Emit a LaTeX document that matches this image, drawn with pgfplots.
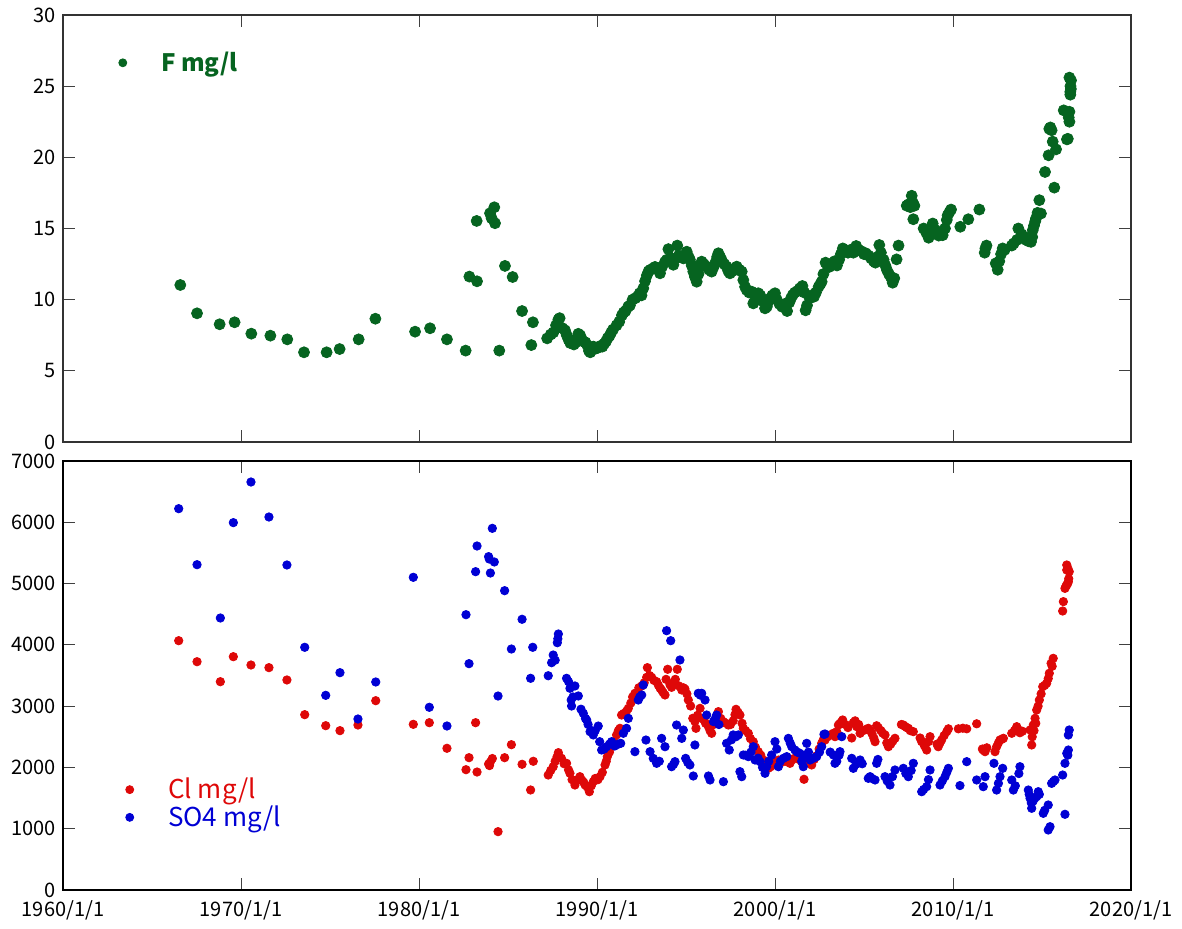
\documentclass[border=0pt]{standalone}
\usepackage{pgfplots}
\usepackage{pgfplotstable}
\usepackage{fontspec}
\pgfplotsset{compat=1.18}
\setmainfont{Noto Sans CJK JP}

\definecolor{fgreen}{RGB}{6,100,32}
\definecolor{clred}{RGB}{222,8,8}
\definecolor{soblue}{RGB}{0,0,212}

% Fluoride, mg/l (decimal year, value)
\pgfplotstableread{
year val
1966.59 11.03
1967.53 9.04
1968.80 8.27
1969.64 8.41
1970.58 7.61
1971.65 7.47
1972.60 7.21
1973.54 6.30
1974.81 6.30
1975.54 6.53
1976.61 7.21
1977.55 8.66
1979.78 7.75
1980.62 7.99
1981.57 7.21
1982.62 6.42
1982.83 11.62
1983.24 15.53
1983.26 11.29
1983.99 16.07
1984.08 15.72
1984.23 16.49
1984.27 15.37
1984.51 6.42
1984.83 12.37
1985.26 11.59
1985.79 9.20
1986.31 6.81
1986.40 8.41
1987.20 7.28
1987.40 7.55
1987.55 7.70
1987.70 8.20
1987.83 8.60
1987.90 8.70
1988.05 8.00
1988.20 7.85
1988.30 7.50
1988.40 7.20
1988.50 6.95
1988.60 7.10
1988.70 6.85
1988.80 7.00
1988.95 7.60
1989.05 7.50
1989.15 7.20
1989.25 7.05
1989.35 7.00
1989.45 6.80
1989.55 6.40
1989.62 6.30
1989.70 6.60
1989.80 6.70
1989.90 6.55
1990.00 6.60
1990.10 6.65
1990.20 6.75
1990.30 6.70
1990.40 6.90
1990.50 7.05
1990.60 7.30
1990.70 7.45
1990.80 7.70
1990.90 7.90
1991.10 8.20
1991.25 8.45
1991.40 8.90
1991.50 9.10
1991.60 9.20
1991.75 9.50
1991.85 9.60
1992.00 10.00
1992.15 10.10
1992.30 10.25
1992.40 10.45
1992.50 10.30
1992.60 10.80
1992.70 11.30
1992.80 11.70
1992.90 12.00
1993.00 12.10
1993.15 12.20
1993.26 12.30
1993.40 12.20
1993.54 11.85
1993.65 12.30
1993.82 12.65
1993.92 12.80
1994.01 13.55
1994.15 12.90
1994.29 12.45
1994.40 12.90
1994.51 13.80
1994.60 13.10
1994.72 13.00
1994.85 12.90
1995.04 13.37
1995.15 13.00
1995.22 12.80
1995.32 12.40
1995.41 11.97
1995.50 11.60
1995.60 11.26
1995.70 11.80
1995.80 12.30
1995.88 12.67
1996.00 12.50
1996.16 12.32
1996.30 12.10
1996.44 11.97
1996.55 12.30
1996.65 12.60
1996.75 13.00
1996.82 13.26
1996.92 13.00
1997.00 12.79
1997.15 12.50
1997.28 12.32
1997.38 12.00
1997.47 11.85
1997.60 12.00
1997.75 12.20
1997.85 12.32
1998.00 12.10
1998.13 11.97
1998.22 11.38
1998.32 10.90
1998.41 10.68
1998.55 10.50
1998.69 10.56
1998.78 9.74
1998.90 10.20
1999.06 10.45
1999.17 10.30
1999.30 9.90
1999.44 9.39
1999.54 9.50
1999.62 9.86
1999.75 10.10
1999.85 10.30
2000.00 10.45
2000.10 10.00
2000.25 9.70
2000.40 9.50
2000.55 9.70
2000.68 9.20
2000.80 9.80
2000.90 10.10
2001.00 10.33
2001.12 10.50
2001.25 10.60
2001.40 10.80
2001.54 10.96
2001.65 10.50
2001.72 9.25
2001.80 9.60
2001.95 10.10
2002.05 10.30
2002.19 10.21
2002.30 10.50
2002.45 10.90
2002.55 11.10
2002.62 11.26
2002.72 11.80
2002.84 12.60
2002.95 12.40
2003.05 12.30
2003.20 12.50
2003.35 12.70
2003.48 12.40
2003.60 12.80
2003.70 13.20
2003.81 13.60
2003.95 13.40
2004.10 13.30
2004.25 13.50
2004.40 13.30
2004.56 13.77
2004.70 13.50
2004.85 13.40
2005.00 13.20
2005.10 13.26
2005.25 13.10
2005.40 12.90
2005.55 12.70
2005.64 12.60
2005.75 13.00
2005.86 13.84
2005.95 13.30
2006.10 12.80
2006.20 12.40
2006.29 12.08
2006.40 11.80
2006.50 11.60
2006.61 11.19
2006.70 11.50
2006.83 12.83
2006.94 13.80
2007.40 16.60
2007.50 16.70
2007.60 16.50
2007.68 17.30
2007.75 16.80
2007.83 16.60
2007.77 15.65
2008.35 15.00
2008.50 14.70
2008.63 14.35
2008.75 14.60
2008.86 15.35
2009.00 14.90
2009.20 14.50
2009.42 14.53
2009.55 15.00
2009.65 15.60
2009.70 15.93
2009.80 16.15
2009.89 16.33
2010.41 15.12
2010.86 15.65
2011.48 16.33
2011.78 13.30
2011.82 13.60
2011.88 13.80
2012.40 12.55
2012.51 12.10
2012.60 12.70
2012.70 13.20
2012.79 13.60
2012.90 13.50
2013.30 13.80
2013.41 13.95
2013.60 14.20
2013.67 15.00
2013.85 14.60
2014.00 14.42
2014.10 14.20
2014.25 14.10
2014.38 14.06
2014.45 14.40
2014.48 14.88
2014.55 15.20
2014.62 15.50
2014.66 15.70
2014.75 16.10
2014.85 16.99
2014.94 16.05
2015.17 18.97
2015.37 20.14
2015.41 22.00
2015.47 22.10
2015.54 21.90
2015.60 21.10
2015.69 17.87
2015.79 20.56
2016.22 23.30
2016.40 21.26
2016.45 21.30
2016.50 22.80
2016.54 23.20
2016.54 22.50
2016.54 25.60
2016.59 24.60
2016.59 24.40
2016.60 25.00
2016.62 24.80
2016.63 25.40
}\Fdata

% Chloride, mg/l
\pgfplotstableread{
year val
1966.50 4068
1967.53 3725
1968.84 3399
1969.57 3807
1970.56 3671
1971.57 3628
1972.58 3427
1973.58 2861
1974.76 2681
1975.56 2600
1976.57 2692
1977.57 3089
1979.68 2703
1980.58 2730
1981.57 2312
1982.64 1963
1982.81 2159
1983.18 2730
1983.26 1925
1983.91 2056
1983.96 2030
1984.01 2090
1984.12 2145
1984.44 952
1984.81 2159
1985.19 2371
1985.79 2051
1986.27 1632
1986.42 2100
1987.26 1876
1987.40 1950
1987.54 2012
1987.65 2100
1987.75 2170
1987.83 2241
1988.00 2150
1988.15 2060
1988.29 2067
1988.40 1960
1988.48 1904
1988.60 1800
1988.76 1713
1988.90 1800
1989.04 1849
1989.15 1790
1989.25 1760
1989.33 1713
1989.45 1680
1989.57 1604
1989.68 1700
1989.79 1767
1989.90 1820
1990.05 1800
1990.17 1849
1990.30 1920
1990.45 2040
1990.52 2100
1990.58 2175
1990.70 2250
1990.82 2338
1990.95 2420
1991.10 2530
1991.20 2600
1991.29 2638
1991.38 2855
1991.50 2880
1991.66 2920
1991.76 2964
1991.90 3050
1992.00 3150
1992.13 3209
1992.25 3220
1992.35 3300
1992.51 3329
1992.65 3380
1992.79 3470
1992.83 3628
1992.95 3500
1993.07 3470
1993.20 3420
1993.35 3399
1993.45 3340
1993.55 3290
1993.63 3263
1993.72 3220
1993.82 3182
1993.88 3437
1993.97 3601
1994.10 3350
1994.19 3307
1994.30 3380
1994.40 3437
1994.51 3601
1994.60 3330
1994.76 3263
1994.85 3300
1994.94 3280
1995.05 3200
1995.13 3100
1995.26 3002
1995.38 2801
1995.50 2750
1995.56 2638
1995.65 2850
1995.79 2964
1995.88 2801
1996.00 2780
1996.10 2720
1996.26 2665
1996.35 2600
1996.44 2557
1996.55 2700
1996.70 2820
1996.82 2910
1996.95 2800
1997.10 2747
1997.25 2720
1997.38 2692
1997.50 2700
1997.65 2760
1997.75 2860
1997.81 2948
1997.92 2900
1998.03 2855
1998.15 2720
1998.22 2638
1998.35 2600
1998.50 2557
1998.62 2470
1998.78 2420
1998.90 2330
1999.06 2257
1999.20 2200
1999.34 2121
1999.48 2050
1999.62 1985
1999.75 2010
1999.90 2040
2000.05 2100
2000.20 2120
2000.35 2080
2000.47 2138
2000.60 2100
2000.72 2150
2000.84 2067
2000.95 2120
2001.10 2150
2001.22 2170
2001.35 2130
2001.50 2090
2001.63 1806
2001.70 2080
2001.78 2121
2001.90 2080
2002.06 2040
2002.20 2130
2002.34 2190
2002.48 2300
2002.62 2393
2002.71 2448
2002.81 2447
2002.95 2500
2003.10 2530
2003.28 2557
2003.37 2502
2003.47 2584
2003.56 2692
2003.65 2720
2003.75 2747
2003.80 2774
2003.95 2700
2004.10 2650
2004.31 2480
2004.40 2730
2004.50 2760
2004.59 2665
2004.70 2700
2004.78 2557
2004.95 2600
2005.10 2620
2005.24 2638
2005.34 2600
2005.45 2550
2005.55 2480
2005.62 2420
2005.71 2680
2005.80 2650
2005.95 2600
2006.05 2560
2006.18 2530
2006.28 2400
2006.37 2338
2006.50 2380
2006.62 2430
2006.74 2475
2007.10 2700
2007.21 2692
2007.30 2670
2007.40 2650
2007.49 2638
2007.60 2600
2007.77 2584
2008.15 2480
2008.24 2420
2008.40 2350
2008.52 2284
2008.62 2420
2008.71 2502
2009.10 2380
2009.17 2338
2009.27 2400
2009.36 2448
2009.50 2520
2009.65 2584
2009.74 2630
2010.30 2630
2010.55 2640
2010.77 2630
2011.33 2712
2011.65 2300
2011.70 2284
2011.80 2257
2011.90 2320
2012.36 2257
2012.45 2338
2012.55 2400
2012.64 2448
2012.75 2460
2012.83 2475
2013.30 2557
2013.45 2600
2013.58 2665
2013.65 2620
2013.76 2566
2013.90 2590
2014.33 2611
2014.42 2366
2014.45 2500
2014.51 2692
2014.55 2600
2014.61 2801
2014.65 2720
2014.70 2937
2014.78 3000
2014.85 3100
2014.95 3200
2015.04 3318
2015.15 3340
2015.26 3373
2015.35 3450
2015.41 3536
2015.51 3699
2015.57 3650
2015.63 3780
2016.16 4552
2016.20 4705
2016.29 4922
2016.35 4960
2016.39 4977
2016.44 5000
2016.48 5031
2016.39 5221
2016.39 5303
2016.53 5194
2016.50 5080
2016.45 5250
}\Cldata

% Sulphate, mg/l
\pgfplotstableread{
year val
1966.50 6222
1967.53 5308
1968.84 4438
1969.57 5994
1970.56 6657
1971.57 6086
1972.58 5303
1973.58 3960
1974.76 3176
1975.56 3546
1976.57 2790
1977.57 3394
1979.68 5102
1980.58 2981
1981.57 2676
1982.64 4492
1982.81 3693
1983.18 5194
1983.26 5613
1983.91 5439
1983.95 5400
1984.01 5172
1984.12 5901
1984.23 5352
1984.44 3165
1984.81 4884
1985.19 3932
1985.79 4417
1986.27 3454
1986.39 3960
1987.26 3496
1987.45 3709
1987.54 3834
1987.65 3750
1987.77 4035
1987.80 4100
1987.83 4177
1988.29 3454
1988.40 3400
1988.48 3291
1988.55 3100
1988.57 3002
1988.65 3150
1988.76 3329
1988.95 3166
1989.10 2950
1989.23 2883
1989.35 2800
1989.42 2774
1989.50 2700
1989.61 2583
1989.70 2600
1989.79 2530
1989.90 2600
1990.07 2675
1990.15 2420
1990.26 2284
1990.40 2300
1990.54 2338
1990.70 2380
1990.82 2420
1991.00 2350
1991.20 2380
1991.33 2393
1991.48 2557
1991.66 2638
1991.76 2801
1992.13 2257
1992.32 3100
1992.40 3150
1992.51 3182
1992.60 3345
1992.75 2447
1992.98 2257
1993.16 2148
1993.35 2067
1993.50 2100
1993.63 2474
1993.82 2338
1993.91 4231
1994.14 4068
1994.19 2012
1994.30 2050
1994.38 2094
1994.47 2692
1994.66 3753
1994.76 2474
1994.85 2610
1994.98 2148
1995.10 2080
1995.22 2040
1995.41 1860
1995.50 2366
1995.69 3209
1995.80 3180
1995.88 3209
1996.07 3100
1996.16 2855
1996.26 1860
1996.35 1795
1996.54 2747
1996.65 2800
1996.72 2855
1996.85 2700
1997.10 1767
1997.28 2393
1997.43 2284
1997.55 2450
1997.65 2530
1997.80 2500
1997.94 2530
1998.03 1931
1998.13 1849
1998.22 2203
1998.35 2200
1998.50 2176
1998.65 2250
1998.78 2338
1998.88 2121
1999.05 2150
1999.16 2094
1999.30 2000
1999.44 1904
1999.53 2012
1999.65 2100
1999.81 2203
2000.00 2420
2000.10 2300
2000.19 2012
2000.30 2100
2000.47 2148
2000.66 2176
2000.75 2474
2000.85 2400
2000.94 2338
2001.12 2284
2001.25 2250
2001.40 2230
2001.50 2100
2001.59 2012
2001.68 2200
2001.78 2393
2001.88 2250
2001.97 2121
2002.15 2148
2002.34 2176
2002.50 2250
2002.62 2338
2002.75 2540
2002.81 2545
2003.10 2250
2003.28 2203
2003.37 2067
2003.47 2100
2003.60 2200
2003.65 2257
2003.75 2502
2004.31 2148
2004.40 1985
2004.55 2050
2004.78 2121
2004.90 2060
2005.24 1822
2005.34 1849
2005.45 1820
2005.62 1795
2005.71 2067
2005.78 2130
2006.18 1849
2006.30 1780
2006.46 1713
2006.60 1850
2006.74 1958
2007.21 1985
2007.35 1900
2007.49 1849
2007.65 1950
2007.77 2067
2008.24 1604
2008.35 1640
2008.52 1686
2008.62 1800
2008.71 1958
2009.27 1713
2009.40 1780
2009.55 1849
2009.65 1920
2009.74 1985
2010.39 1704
2010.77 2094
2011.33 1795
2011.70 1686
2011.80 1849
2012.30 2067
2012.45 1631
2012.55 1740
2012.64 1849
2012.79 1985
2013.30 1795
2013.39 1631
2013.50 1700
2013.70 1900
2013.76 2012
2014.23 1631
2014.28 1560
2014.33 1496
2014.40 1420
2014.42 1333
2014.50 1450
2014.60 1500
2014.70 1523
2014.79 1604
2014.85 1560
2015.07 1251
2015.15 1300
2015.35 1387
2015.35 979
2015.45 1033
2015.54 1740
2015.64 1770
2015.73 1795
2016.16 1876
2016.29 2067
2016.29 1235
2016.39 2230
2016.45 2200
2016.48 2284
2016.48 2529
2016.53 2611
}\SOdata

\pgfplotsset{
  panel/.style={
    scale only axis,
    width=534pt,
    xmin=1960, xmax=2020,
    xtick={1960,1970,...,2020},
    tick align=inside,
    major tick length=6pt,
    major tick style={black!75, line width=0.5pt},
    tick label style={font=\fontsize{10}{12}\selectfont},
    xticklabel style={yshift=-2pt},
    /pgf/number format/assume math mode=true,
    /pgf/number format/.cd, 1000 sep={},
  },
  dotlegend/.style={
    legend cell align=left,
    legend image code/.code={
      \draw[##1, mark size=2pt] plot coordinates {(2pt,0pt)};
      \path (0pt,-2pt) (21pt,2pt);
    },
  },
}

\begin{document}
\begin{tikzpicture}
\path[use as bounding box] (-31.5pt,-19.5pt) rectangle (559.5pt,445pt);

% Fluoride panel
\begin{axis}[panel,
  at={(0pt,224pt)}, anchor=south west,
  height=213.5pt,
  ymin=0, ymax=30, ytick={0,5,...,30},
  xticklabels={},
  axis line style={black!80, line width=0.7pt},
  dotlegend,
  legend style={at={(0.0515,0.888)}, anchor=west, draw=none, fill=none,
    inner sep=0pt, column sep=0pt,
    nodes={inner xsep=0pt, inner ysep=0pt},
    font=\fontsize{12}{14}\selectfont\bfseries, text=fgreen},
]
\addplot[only marks, mark=*, mark size=2.75pt,
  mark options={draw=fgreen, fill=fgreen}] table[x=year, y=val] {\Fdata};
\addlegendentry{F mg/l}
\end{axis}

% Chloride and sulphate panel
\begin{axis}[panel,
  at={(0pt,0pt)}, anchor=south west,
  height=214.5pt,
  ymin=0, ymax=7000, ytick={0,1000,...,7000},
  xticklabels={1960/1/1,1970/1/1,1980/1/1,1990/1/1,2000/1/1,2010/1/1,2020/1/1},
  axis line style={black, line width=1.1pt},
  dotlegend,
  legend style={at={(0.058,0.2016)}, anchor=west, draw=none, fill=none,
    inner sep=0pt, column sep=0pt, row sep=2pt,
    nodes={inner xsep=0pt, inner ysep=0pt},
    font=\fontsize{13}{15}\selectfont},
]
\addplot[only marks, mark=*, mark size=2.1pt,
  mark options={draw=clred, fill=clred}] table[x=year, y=val] {\Cldata};
\addlegendentry{\textcolor{clred}{Cl mg/l}}
\addplot[only marks, mark=*, mark size=2.1pt,
  mark options={draw=soblue, fill=soblue}] table[x=year, y=val] {\SOdata};
\addlegendentry{\textcolor{soblue}{SO4 mg/l}}
\end{axis}
\end{tikzpicture}
\end{document}
